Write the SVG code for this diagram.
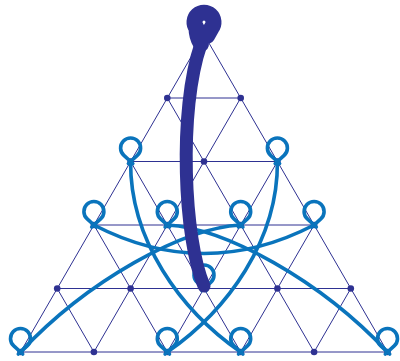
<svg xmlns="http://www.w3.org/2000/svg" width="400" height="361" viewBox="0 0 400 361">
<style>
.grid{stroke:#2e3192;stroke-width:1;fill:none}
.dot{fill:#2e3192}
.arc{stroke:#0a74bc;stroke-width:3.6;fill:none;stroke-linecap:round;stroke-linejoin:round}
.thick{stroke:#2e3192;stroke-width:13;fill:none;stroke-linecap:round;stroke-linejoin:round}
</style>
<defs>
<path id="loop" d="M2.2 2 L-6.72 -6.09 A10 10 0 1 1 6.72 -6.09 L-2.2 2"/>
</defs>
<rect width="400" height="361" fill="#fff"/>
<g id="lattice" class="grid">
<line x1="167.3" y1="98" x2="240.7" y2="98"/>
<line x1="130.6" y1="161.5" x2="277.4" y2="161.5"/>
<line x1="93.9" y1="225" x2="314.1" y2="225"/>
<line x1="57.2" y1="288.5" x2="350.8" y2="288.5"/>
<line x1="20.5" y1="352" x2="387.5" y2="352"/>
<line x1="204" y1="34.5" x2="20.5" y2="352"/>
<line x1="240.7" y1="98" x2="93.9" y2="352"/>
<line x1="277.4" y1="161.5" x2="167.3" y2="352"/>
<line x1="314.1" y1="225" x2="240.7" y2="352"/>
<line x1="350.8" y1="288.5" x2="314.1" y2="352"/>
<line x1="204" y1="34.5" x2="387.5" y2="352"/>
<line x1="167.3" y1="98" x2="314.1" y2="352"/>
<line x1="130.6" y1="161.5" x2="240.7" y2="352"/>
<line x1="93.9" y1="225" x2="167.3" y2="352"/>
<line x1="57.2" y1="288.5" x2="93.9" y2="352"/>
</g>
<g id="nodes" class="dot">
<circle cx="204" cy="34.5" r="3.3"/>
<circle cx="167.3" cy="98" r="3.3"/><circle cx="240.7" cy="98" r="3.3"/>
<circle cx="130.6" cy="161.5" r="3.3"/><circle cx="204" cy="161.5" r="3.3"/><circle cx="277.4" cy="161.5" r="3.3"/>
<circle cx="93.9" cy="225" r="3.3"/><circle cx="167.3" cy="225" r="3.3"/><circle cx="240.7" cy="225" r="3.3"/><circle cx="314.1" cy="225" r="3.3"/>
<circle cx="57.2" cy="288.5" r="3.3"/><circle cx="130.6" cy="288.5" r="3.3"/><circle cx="204" cy="288.5" r="3.3"/><circle cx="277.4" cy="288.5" r="3.3"/><circle cx="350.8" cy="288.5" r="3.3"/>
<circle cx="20.5" cy="352" r="3.3"/><circle cx="93.9" cy="352" r="3.3"/><circle cx="167.3" cy="352" r="3.3"/><circle cx="240.7" cy="352" r="3.3"/><circle cx="314.1" cy="352" r="3.3"/><circle cx="387.5" cy="352" r="3.3"/>
</g>
<g id="connectors">
<g class="arc">
<path d="M130.6 161.5 C130 240 180 310 240.7 352"/>
<path d="M277.4 161.5 C278 240 228 310 167.3 352"/>
<path d="M93.9 225 Q204 282 314.1 225"/>
<path d="M167.3 225 C225 228 320 280 387.5 352"/>
<path d="M240.7 225 C183 228 88 280 20.5 352"/>
</g>
<g id="loops" class="arc">
<use href="#loop" x="130.6" y="161.5"/>
<use href="#loop" x="277.4" y="161.5"/>
<use href="#loop" x="93.9" y="225"/>
<use href="#loop" x="167.3" y="225"/>
<use href="#loop" x="240.7" y="225"/>
<use href="#loop" x="314.1" y="225"/>
<use href="#loop" x="204" y="288.5"/>
<use href="#loop" x="20.5" y="352"/>
<use href="#loop" x="167.3" y="352"/>
<use href="#loop" x="240.7" y="352"/>
<use href="#loop" x="387.5" y="352"/>
</g>
<g id="thick-strand" class="thick">
<path d="M204 286 C184 240 178 110 201 44"/>
<path d="M201 44 C198 39 196.5 34 196.5 28 A9.5 9.5 0 1 1 211.5 28 L207 36" stroke-width="16"/>
</g>
</g>
</svg>
